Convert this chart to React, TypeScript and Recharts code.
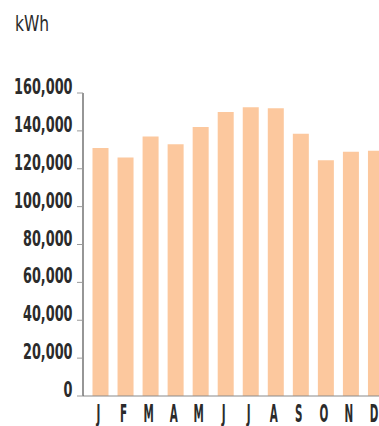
import React from 'react';
import { BarChart, Bar, XAxis, YAxis } from 'recharts';

// Monthly electricity use, kWh
const months = ['J', 'F', 'M', 'A', 'M', 'J', 'J', 'A', 'S', 'O', 'N', 'D'];
const usage = [131000, 126000, 137000, 133000, 142000, 150000, 152500, 152000, 138500, 124500, 129000, 129500];
const yTicks = [0, 20000, 40000, 60000, 80000, 100000, 120000, 140000, 160000];
const unitLabel = 'kWh';

const data = months.map((m, i) => ({ key: `${m}${i}`, month: m, kwh: usage[i] }));

const FONT = '"DejaVu Sans Condensed", "DejaVu Sans", sans-serif';
const INK = '#2b2b2b';

const YTick = (props: any) => {
  const { x, y, payload } = props;
  return (
    <g transform={`translate(${x - 0.5},${y + 1})`}>
      <text
        transform="scale(0.68,1)"
        textAnchor="end"
        fontFamily={FONT}
        fontWeight="bold"
        fontSize={21}
        fill={INK}
      >
        {Number(payload.value).toLocaleString('en-US')}
      </text>
    </g>
  );
};

const XTick = (props: any) => {
  const { x, y, payload, index } = props;
  return (
    <g transform={`translate(${x - 1.5},${y + 26})`}>
      <text
        transform="scale(0.48,1)"
        textAnchor="middle"
        fontFamily={FONT}
        fontWeight="bold"
        fontSize={24}
        fill={INK}
      >
        {months[index] ?? payload.value}
      </text>
    </g>
  );
};

export default function App() {
  return (
    <div
      style={{
        position: 'fixed',
        left: 0,
        top: 0,
        width: 379,
        height: 426,
        overflow: 'hidden',
        background: '#ffffff',
      }}
    >
      <svg width={80} height={40} style={{ position: 'absolute', left: 0, top: 0 }}>
        <g transform="translate(15,31)">
          <text transform="scale(0.82,1)" fontFamily={FONT} fontSize={21} fill={INK}>
            {unitLabel}
          </text>
        </g>
      </svg>
      <BarChart
        width={388}
        height={426}
        data={data}
        margin={{ top: 93, right: 0, bottom: 0, left: 0 }}
        barCategoryGap={0}
        style={{ position: 'absolute', left: 0, top: 0 }}
      >
        <XAxis
          dataKey="key"
          height={30}
          padding={{ left: 4.5, right: 0 }}
          axisLine={{ stroke: '#8a8a8a', strokeWidth: 1.2 }}
          tickLine={false}
          tickSize={0}
          tickMargin={0}
          interval={0}
          tick={<XTick />}
        />
        <YAxis
          width={83}
          domain={[0, 160000]}
          ticks={yTicks}
          interval={0}
          allowDataOverflow
          axisLine={{ stroke: '#5e5e5e', strokeWidth: 1.3 }}
          tickLine={{ stroke: '#9a9a9a', strokeWidth: 1 }}
          tickSize={6}
          tickMargin={4}
          tick={<YTick />}
        />
        <Bar dataKey="kwh" fill="#FCC89E" barSize={16} isAnimationActive={false} />
      </BarChart>
    </div>
  );
}
